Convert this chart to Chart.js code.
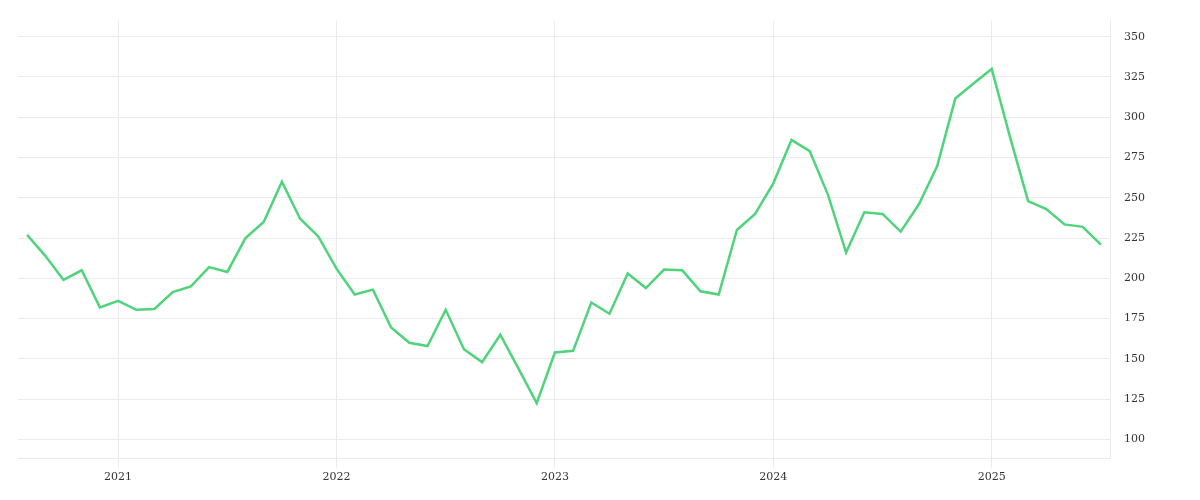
<!DOCTYPE html>
<html>
<head>
<meta charset="utf-8">
<script src="https://cdn.jsdelivr.net/npm/chart.js@4"></script>
<style>
  body { margin: 0; background: #fff; }
  #wrap { width: 1200px; height: 500px; }
</style>
</head>
<body>
<div id="wrap"><canvas id="chart"></canvas></div>
<script>
// monthly, Aug 2020 - Jul 2025
const months = [];
for (let y = 2020; y <= 2025; y++) {
  for (let m = 1; m <= 12; m++) {
    if ((y === 2020 && m < 8) || (y === 2025 && m > 7)) continue;
    months.push(y + "-" + String(m).padStart(2, "0"));
  }
}
const values = [
  227, 214, 199, 205, 182, 186, 180.5, 181, 191.5, 195, 207, 204,
  225, 235, 260, 237, 226, 206, 190, 193, 169.5, 160, 158, 180.5,
  156, 148, 165, 144, 122.6, 154, 155, 185, 178, 203, 194, 205.5,
  205, 192, 190, 230, 240, 259, 286, 279, 252, 216, 241, 240,
  229, 246, 269.5, 311.6, 321, 330, 288, 248, 243, 233.5, 232, 221
];
const yTicks = [100, 125, 150, 175, 200, 225, 250, 275, 300, 325, 350];

const font = { family: "DejaVu Serif", size: 11 };
const gridColor = "#ebebeb";

new Chart(document.getElementById("chart"), {
  type: "line",
  data: {
    labels: months,
    datasets: [{
      data: values,
      borderColor: "#4fd37b",
      borderWidth: 2.5,
      pointRadius: 0,
      tension: 0,
      fill: false
    }]
  },
  options: {
    responsive: true,
    maintainAspectRatio: false,
    animation: false,
    layout: { padding: { left: 18, right: 41, top: 4, bottom: 13 } },
    plugins: { legend: { display: false }, tooltip: { enabled: false } },
    scales: {
      x: {
        offset: true,
        grid: {
          offset: false,
          color: ctx => (ctx.tick && months[ctx.tick.value] && months[ctx.tick.value].endsWith("-01")) ? gridColor : "transparent",
          tickLength: 9
        },
        border: { display: true, color: gridColor },
        ticks: {
          autoSkip: false,
          maxRotation: 0,
          font: font,
          color: "#333",
          callback: (v, i) => months[i].endsWith("-01") ? months[i].slice(0, 4) : ""
        }
      },
      y: {
        position: "right",
        min: 88,
        max: 360,
        afterBuildTicks: axis => { axis.ticks = yTicks.map(v => ({ value: v })); },
        grid: { color: gridColor, drawTicks: false },
        border: { display: true, color: gridColor },
        ticks: { font: font, color: "#333", padding: 14 }
      }
    }
  }
});
</script>
</body>
</html>
